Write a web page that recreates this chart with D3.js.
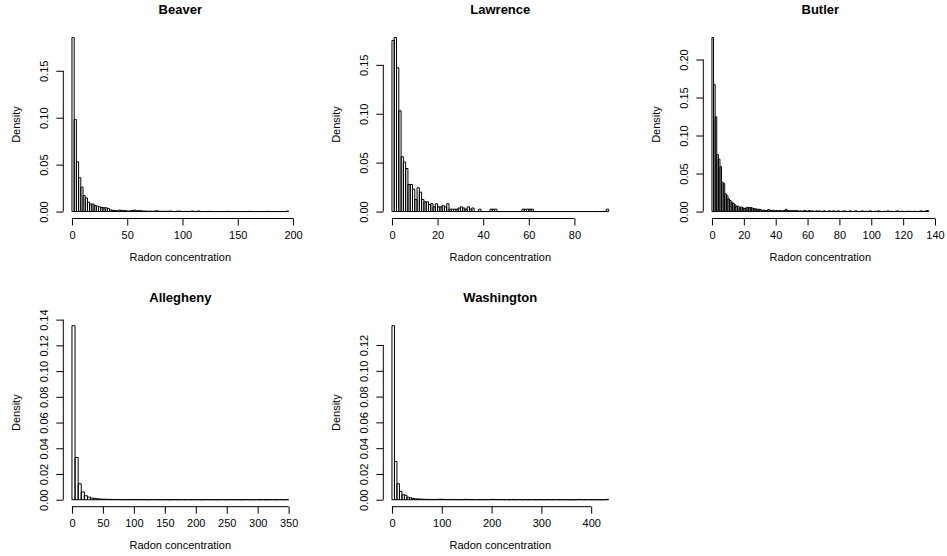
<!DOCTYPE html>
<html>
<head>
<meta charset="utf-8">
<script src="https://cdn.jsdelivr.net/npm/d3@7"></script>
<style>
  html, body { margin: 0; padding: 0; background: #fff; }
  svg { display: block; }
</style>
</head>
<body>
<svg id="chart" width="947" height="556"></svg>
<script>
// Histogram densities of household radon concentration by county.
const counties = ["Beaver", "Lawrence", "Butler", "Allegheny", "Washington"];
const binWidths = [2, 1, 1, 5, 5];

const beaverDensity = [
  0.1855, 0.098, 0.053, 0.036, 0.026, 0.017, 0.0145, 0.010, 0.008, 0.008,
  0.0064, 0.0057, 0.005, 0.0043, 0.004, 0.004, 0.0032, 0.0018, 0.0012, 0.001,
  0.0008, 0.0015, 0.0012, 0.001, 0.0008, 0.0005, 0.0008, 0.0012, 0.0015, 0.0008,
  0.001, 0.0008, 0.0005, 0.0005, 0.0003, 0.0005, 0.0003, 0.0005, 0.0008, 0.0003,
  0.0002, 0.0003, 0.0002, 0.0003, 0.0005, 0.0002, 0, 0.0003, 0.0005, 0.0002,
  0, 0.0002, 0, 0.0002, 0.0005, 0, 0.0002, 0.0005, 0, 0,
  0, 0, 0.0002, 0, 0, 0, 0, 0, 0, 0,
  0.0002, 0, 0, 0, 0, 0, 0, 0, 0, 0,
  0.0002, 0, 0, 0, 0, 0, 0, 0, 0.0002, 0,
  0, 0, 0, 0, 0, 0, 0, 0.0005
];

const lawrenceDensity = [
  0.175, 0.178, 0.147, 0.103, 0.056, 0.0506, 0.044, 0.0277, 0.0277, 0.0229,
  0.0123, 0.0243, 0.0198, 0.0123, 0.0099, 0.0099, 0.0072, 0.008, 0.0048, 0.008,
  0.0048, 0.0048, 0.006, 0.0048, 0.008, 0.0024, 0.0024, 0.0024, 0.0024, 0.0036,
  0.0048, 0.0036, 0.0024, 0.0048, 0.0024, 0.0036, 0, 0, 0.0024, 0,
  0, 0, 0, 0.0024, 0.0024, 0.0024, 0, 0, 0, 0,
  0, 0, 0, 0, 0, 0, 0, 0.0024, 0.0024, 0.0024,
  0.0024, 0.0024, 0, 0, 0, 0, 0, 0, 0, 0,
  0, 0, 0, 0, 0, 0, 0, 0, 0, 0,
  0, 0, 0, 0, 0, 0, 0, 0, 0, 0,
  0, 0, 0, 0, 0.0024
];

const butlerDensity = [
  0.229, 0.167, 0.1246, 0.075, 0.069, 0.059, 0.0386, 0.037, 0.0233, 0.021,
  0.0167, 0.0145, 0.0123, 0.0105, 0.0088, 0.007, 0.007, 0.0048, 0.006, 0.0048,
  0.004, 0.0048, 0.0057, 0.005, 0.0053, 0.0044, 0.004, 0.0035, 0.003, 0.003,
  0.0026, 0.0013, 0.0018, 0.0009, 0.0013, 0.0026, 0.0018, 0.0013, 0.0018, 0.0009,
  0.0013, 0.0009, 0.0013, 0.0009, 0.0009, 0.0013, 0.003, 0.0013, 0.0009, 0.0013,
  0.0009, 0.0013, 0.0009, 0.0013, 0.0004, 0.0009, 0.0004, 0.0009, 0.0013, 0.0004,
  0.0009, 0.0013, 0.0004, 0.0009, 0, 0.0009, 0.0004,
  0.0009, 0, 0.0004, 0.0009, 0.0004, 0, 0.0009, 0.0004, 0.0004, 0.0009,
  0, 0.0004, 0.0009, 0, 0.0004, 0.0004, 0.0009, 0, 0, 0.0009,
  0.0004, 0, 0.0004, 0.0009, 0, 0, 0.0004, 0.0009, 0, 0.0004,
  0, 0.0004, 0.0009, 0, 0, 0.0004, 0, 0.0009, 0.0004, 0,
  0, 0.0004, 0, 0.0009, 0, 0.0004, 0, 0, 0.0004, 0.0009,
  0, 0, 0.0004, 0, 0, 0.0004, 0, 0.0004, 0, 0,
  0.0004, 0, 0, 0.0004, 0.0009, 0, 0.0004, 0.0009, 0.0013
];

const alleghenyDensity = [
  0.1353, 0.0329, 0.0124, 0.006, 0.0031, 0.002, 0.0013, 0.001, 0.0007, 0.0005,
  0.0004, 0.0003, 0.0003, 0.0002, 0.0002, 0.0002, 0.0001,
  0.0001, 0.0002, 0.0001, 0.0001, 0.0001, 0.0001, 0.0001, 0, 0.0001, 0.0001,
  0.0001, 0, 0.0001, 0.0001, 0, 0.0001, 0.0001, 0, 0.0001, 0,
  0.0001, 0, 0.0001, 0.0001, 0, 0, 0.0001, 0, 0.0001, 0,
  0, 0.0001, 0, 0, 0.0001, 0, 0.0001, 0, 0, 0.0001,
  0, 0, 0.0001, 0, 0.0001, 0, 0, 0.0001, 0, 0,
  0.0001, 0, 0.0001
];

const washingtonDensity = [
  0.135, 0.0297, 0.0124, 0.0065, 0.0039, 0.0035, 0.002, 0.0015, 0.001, 0.0007,
  0.0006, 0.0005, 0.0004, 0.0003, 0.0003, 0.0002, 0.0002, 0.0002, 0.0003, 0.0004,
  0.0003,
  0.0002, 0.0002, 0.0001, 0.0002, 0.0001, 0.0001, 0.0001, 0.0002, 0.0003, 0.0002,
  0.0001, 0.0001, 0.0002, 0.0001, 0.0001, 0.0001, 0.0001, 0.0001, 0.0002, 0.0003,
  0.0002, 0.0001, 0.0002, 0.0001, 0, 0.0001, 0, 0.0001, 0, 0.0001,
  0.0002, 0, 0.0001, 0, 0, 0.0001, 0, 0, 0.0001, 0,
  0, 0.0001, 0, 0, 0.0001, 0, 0, 0, 0.0001, 0,
  0, 0, 0, 0.0001, 0.0002, 0, 0, 0.0001, 0, 0,
  0, 0.0001, 0, 0, 0.0001, 0.0003
];

const densities = [beaverDensity, lawrenceDensity, butlerDensity, alleghenyDensity, washingtonDensity];

const xTickValues = [
  [0, 50, 100, 150, 200],
  [0, 20, 40, 60, 80],
  [0, 20, 40, 60, 80, 100, 120, 140],
  [0, 50, 100, 150, 200, 250, 300, 350],
  [0, 100, 200, 300, 400]
];
const yTickValues = [
  [0, 0.05, 0.10, 0.15],
  [0, 0.05, 0.10, 0.15],
  [0, 0.05, 0.10, 0.15, 0.20],
  [0, 0.02, 0.04, 0.06, 0.08, 0.10, 0.12, 0.14],
  [0, 0.02, 0.04, 0.06, 0.08, 0.10, 0.12]
];

const xLabel = "Radon concentration";
const yLabel = "Density";

// Layout of the 2 x 3 panel grid
const FONT = "'Liberation Sans', Arial, Helvetica, sans-serif";
const plotW = 234, plotH = 188;
const colStep = 320, rowStep = 288.2;
const originX = 63.3, originY = 30.5;
const tickLen = 7;

const svg = d3.select("#chart");

counties.forEach((name, i) => {
  const col = i % 3, row = Math.floor(i / 3);
  const left = originX + col * colStep;
  const top = originY + row * rowStep;
  const values = densities[i];
  const bw = binWidths[i];
  const xMax = bw * values.length;
  const yMax = d3.max(values);

  // Axis limits padded by 4% on each side
  const x = d3.scaleLinear()
    .domain([-0.04 * xMax, xMax * 1.04])
    .range([0, plotW]);
  const y = d3.scaleLinear()
    .domain([-0.04 * yMax, yMax * 1.04])
    .range([plotH, 0]);

  const g = svg.append("g").attr("transform", `translate(${left},${top})`);

  // Bars as closed outlines (empty bins collapse to a baseline segment)
  g.append("g")
    .selectAll("path")
    .data(values)
    .join("path")
    .attr("d", (d, k) => {
      const x0 = x(k * bw), x1 = x((k + 1) * bw);
      const y0 = y(0), y1 = y(d);
      return `M${x0},${y0}V${y1}H${x1}V${y0}Z`;
    })
    .attr("fill", "none")
    .attr("stroke", "#000")
    .attr("stroke-width", 1);

  // Bottom axis
  const xt = xTickValues[i];
  const xAxis = g.append("g")
    .attr("transform", `translate(0,${plotH})`)
    .call(d3.axisBottom(x).tickValues(xt).tickSize(tickLen).tickSizeOuter(0).tickPadding(6)
      .tickFormat(d3.format("d")));
  xAxis.select(".domain").remove();
  xAxis.append("line")
    .attr("x1", x(xt[0])).attr("x2", x(xt[xt.length - 1]))
    .attr("stroke", "#000");
  xAxis.selectAll("text")
    .attr("font-family", FONT).attr("font-size", 11).attr("fill", "#000");

  // Left axis with labels parallel to the axis
  const yt = yTickValues[i];
  const yAxis = g.append("g")
    .call(d3.axisLeft(y).tickValues(yt).tickSize(tickLen).tickSizeOuter(0)
      .tickFormat(d3.format(".2f")));
  yAxis.select(".domain").remove();
  yAxis.append("line")
    .attr("y1", y(yt[0])).attr("y2", y(yt[yt.length - 1]))
    .attr("stroke", "#000");
  yAxis.selectAll("text")
    .attr("x", null).attr("dy", null)
    .attr("text-anchor", "middle")
    .attr("transform", "translate(-15.5,0) rotate(-90)")
    .attr("font-family", FONT).attr("font-size", 11).attr("fill", "#000");

  // Title and axis labels
  g.append("text")
    .attr("x", plotW / 2).attr("y", -16.5)
    .attr("text-anchor", "middle")
    .attr("font-family", FONT).attr("font-size", 13).attr("font-weight", "bold")
    .text(name);
  g.append("text")
    .attr("x", plotW / 2).attr("y", plotH + 42.5)
    .attr("text-anchor", "middle")
    .attr("font-family", FONT).attr("font-size", 11)
    .text(xLabel);
  g.append("text")
    .attr("transform", `translate(-43.3,${plotH / 2}) rotate(-90)`)
    .attr("text-anchor", "middle")
    .attr("font-family", FONT).attr("font-size", 11)
    .text(yLabel);
});
</script>
</body>
</html>
